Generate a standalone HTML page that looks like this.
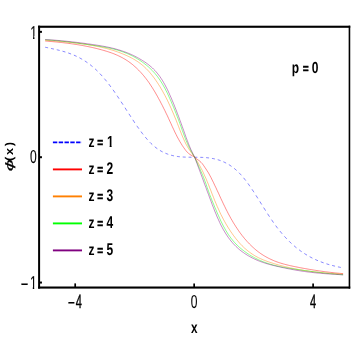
<!DOCTYPE html>
<html><head><meta charset="utf-8"><title>plot</title>
<style>html,body{margin:0;padding:0;background:#fff;}svg{display:block;}text{font-family:"Liberation Sans",sans-serif;fill:#000;text-rendering:geometricPrecision;}</style></head>
<body>
<svg width="353" height="360" viewBox="0 0 353 360">
<rect x="0" y="0" width="353" height="360" fill="#fff"/>
<path transform="scale(1,1.4)" d="M45.2,33.73 L46.4,33.92 L47.7,34.10 L48.9,34.29 L50.2,34.48 L51.4,34.67 L52.7,34.86 L53.9,35.06 L55.2,35.26 L56.4,35.46 L57.7,35.67 L58.9,35.89 L60.2,36.12 L61.4,36.35 L62.7,36.60 L63.9,36.85 L65.1,37.12 L66.4,37.40 L67.6,37.69 L68.9,38.00 L70.1,38.32 L71.4,38.65 L72.6,39.01 L73.9,39.38 L75.1,39.77 L76.4,40.18 L77.6,40.61 L78.9,41.06 L80.1,41.53 L81.3,42.02 L82.6,42.54 L83.8,43.09 L85.1,43.65 L86.3,44.25 L87.6,44.87 L88.8,45.52 L90.1,46.19 L91.3,46.90 L92.6,47.63 L93.8,48.39 L95.1,49.19 L96.3,50.01 L97.6,50.87 L98.8,51.76 L100.0,52.69 L101.3,53.65 L102.5,54.64 L103.8,55.67 L105.0,56.72 L106.3,57.81 L107.5,58.93 L108.8,60.08 L110.0,61.26 L111.3,62.46 L112.5,63.68 L113.8,64.93 L115.0,66.20 L116.2,67.49 L117.5,68.80 L118.7,70.12 L120.0,71.47 L121.2,72.82 L122.5,74.19 L123.7,75.56 L125.0,76.94 L126.2,78.33 L127.5,79.71 L128.7,81.09 L130.0,82.47 L131.2,83.83 L132.5,85.19 L133.7,86.54 L134.9,87.86 L136.2,89.17 L137.4,90.46 L138.7,91.73 L139.9,92.97 L141.2,94.18 L142.4,95.37 L143.7,96.51 L144.9,97.62 L146.2,98.69 L147.4,99.72 L148.7,100.71 L149.9,101.65 L151.1,102.54 L152.4,103.37 L153.6,104.16 L154.9,104.90 L156.1,105.60 L157.4,106.25 L158.6,106.85 L159.9,107.42 L161.1,107.94 L162.4,108.43 L163.6,108.87 L164.9,109.28 L166.1,109.66 L167.4,110.00 L168.6,110.32 L169.8,110.60 L171.1,110.85 L172.3,111.08 L173.6,111.28 L174.8,111.46 L176.1,111.62 L177.3,111.75 L178.6,111.87 L179.8,111.97 L181.1,112.05 L182.3,112.12 L183.6,112.17 L184.8,112.22 L186.0,112.25 L187.3,112.27 L188.5,112.29 L189.8,112.30 L191.0,112.31 L192.3,112.31 L193.5,112.32 L194.8,112.32 L196.0,112.32 L197.3,112.33 L198.5,112.35 L199.8,112.37 L201.0,112.39 L202.3,112.43 L203.5,112.47 L204.7,112.53 L206.0,112.59 L207.2,112.68 L208.5,112.77 L209.7,112.88 L211.0,113.02 L212.2,113.16 L213.5,113.33 L214.7,113.52 L216.0,113.74 L217.2,113.98 L218.5,114.24 L219.7,114.53 L220.9,114.85 L222.2,115.19 L223.4,115.57 L224.7,115.98 L225.9,116.42 L227.2,116.90 L228.4,117.41 L229.7,117.96 L230.9,118.55 L232.2,119.18 L233.4,119.85 L234.7,120.56 L235.9,121.32 L237.2,122.12 L238.4,122.97 L239.6,123.86 L240.9,124.81 L242.1,125.80 L243.4,126.84 L244.6,127.94 L245.9,129.08 L247.1,130.26 L248.4,131.48 L249.6,132.73 L250.9,134.02 L252.1,135.33 L253.4,136.68 L254.6,138.04 L255.8,139.42 L257.1,140.81 L258.3,142.22 L259.6,143.64 L260.8,145.06 L262.1,146.48 L263.3,147.90 L264.6,149.32 L265.8,150.72 L267.1,152.12 L268.3,153.50 L269.6,154.86 L270.8,156.20 L272.1,157.51 L273.3,158.80 L274.5,160.05 L275.8,161.27 L277.0,162.45 L278.3,163.61 L279.5,164.73 L280.8,165.81 L282.0,166.87 L283.3,167.90 L284.5,168.89 L285.8,169.86 L287.0,170.79 L288.3,171.70 L289.5,172.58 L290.7,173.43 L292.0,174.26 L293.2,175.05 L294.5,175.83 L295.7,176.57 L297.0,177.29 L298.2,177.99 L299.5,178.66 L300.7,179.31 L302.0,179.94 L303.2,180.55 L304.5,181.13 L305.7,181.69 L307.0,182.23 L308.2,182.75 L309.4,183.26 L310.7,183.74 L311.9,184.20 L313.2,184.65 L314.4,185.08 L315.7,185.49 L316.9,185.89 L318.2,186.27 L319.4,186.63 L320.7,186.98 L321.9,187.31 L323.2,187.64 L324.4,187.95 L325.6,188.24 L326.9,188.53 L328.1,188.80 L329.4,189.06 L330.6,189.31 L331.9,189.55 L333.1,189.79 L334.4,190.01 L335.6,190.22 L336.9,190.43 L338.1,190.63 L339.4,190.82 L340.6,191.01 L341.9,191.19 L343.1,191.37" fill="none" stroke="#0000ff" stroke-width="0.4" stroke-dasharray="2.95 2.9"/>
<path d="M45.2,41.00 L46.4,41.11 L47.7,41.21 L48.9,41.32 L50.2,41.43 L51.4,41.54 L52.7,41.65 L53.9,41.77 L55.2,41.89 L56.4,42.01 L57.7,42.13 L58.9,42.26 L60.2,42.39 L61.4,42.53 L62.7,42.67 L63.9,42.81 L65.1,42.96 L66.4,43.11 L67.6,43.27 L68.9,43.43 L70.1,43.59 L71.4,43.76 L72.6,43.94 L73.9,44.12 L75.1,44.30 L76.4,44.50 L77.6,44.69 L78.9,44.90 L80.1,45.10 L81.3,45.32 L82.6,45.54 L83.8,45.77 L85.1,46.01 L86.3,46.25 L87.6,46.50 L88.8,46.75 L90.1,47.02 L91.3,47.29 L92.6,47.57 L93.8,47.85 L95.1,48.15 L96.3,48.45 L97.6,48.76 L98.8,49.08 L100.0,49.41 L101.3,49.75 L102.5,50.10 L103.8,50.45 L105.0,50.82 L106.3,51.19 L107.5,51.58 L108.8,51.99 L110.0,52.40 L111.3,52.84 L112.5,53.29 L113.8,53.77 L115.0,54.27 L116.2,54.79 L117.5,55.34 L118.7,55.91 L120.0,56.52 L121.2,57.15 L122.5,57.82 L123.7,58.52 L125.0,59.25 L126.2,60.03 L127.5,60.84 L128.7,61.69 L130.0,62.59 L131.2,63.53 L132.5,64.51 L133.7,65.55 L134.9,66.63 L136.2,67.76 L137.4,68.94 L138.7,70.18 L139.9,71.47 L141.2,72.82 L142.4,74.23 L143.7,75.70 L144.9,77.24 L146.2,78.83 L147.4,80.49 L148.7,82.22 L149.9,84.02 L151.1,85.89 L152.4,87.83 L153.6,89.84 L154.9,91.92 L156.1,94.06 L157.4,96.26 L158.6,98.53 L159.9,100.85 L161.1,103.22 L162.4,105.65 L163.6,108.13 L164.9,110.65 L166.1,113.22 L167.4,115.82 L168.6,118.47 L169.8,121.15 L171.1,123.87 L172.3,126.61 L173.6,129.32 L174.8,131.98 L176.1,134.54 L177.3,136.98 L178.6,139.29 L179.8,141.49 L181.1,143.57 L182.3,145.55 L183.6,147.41 L184.8,149.14 L186.0,150.74 L187.3,152.17 L188.5,153.39 L189.8,154.35 L191.0,155.11 L192.3,155.79 L193.5,156.51 L194.8,157.39 L196.0,158.41 L197.3,159.33 L198.5,160.21 L199.8,161.17 L201.0,162.30 L202.3,163.70 L203.5,165.34 L204.7,167.14 L206.0,169.02 L207.2,170.92 L208.5,172.94 L209.7,175.17 L211.0,177.55 L212.2,180.05 L213.5,182.61 L214.7,185.22 L216.0,187.86 L217.2,190.52 L218.5,193.21 L219.7,195.89 L220.9,198.57 L222.2,201.22 L223.4,203.85 L224.7,206.44 L225.9,208.98 L227.2,211.46 L228.4,213.87 L229.7,216.19 L230.9,218.45 L232.2,220.62 L233.4,222.72 L234.7,224.75 L235.9,226.71 L237.2,228.60 L238.4,230.43 L239.6,232.18 L240.9,233.88 L242.1,235.52 L243.4,237.09 L244.6,238.61 L245.9,240.07 L247.1,241.47 L248.4,242.82 L249.6,244.12 L250.9,245.37 L252.1,246.56 L253.4,247.71 L254.6,248.81 L255.8,249.86 L257.1,250.87 L258.3,251.83 L259.6,252.75 L260.8,253.63 L262.1,254.47 L263.3,255.27 L264.6,256.04 L265.8,256.76 L267.1,257.46 L268.3,258.12 L269.6,258.74 L270.8,259.34 L272.1,259.91 L273.3,260.45 L274.5,260.96 L275.8,261.45 L277.0,261.91 L278.3,262.35 L279.5,262.77 L280.8,263.16 L282.0,263.54 L283.3,263.90 L284.5,264.24 L285.8,264.57 L287.0,264.89 L288.3,265.19 L289.5,265.48 L290.7,265.76 L292.0,266.03 L293.2,266.30 L294.5,266.56 L295.7,266.81 L297.0,267.06 L298.2,267.31 L299.5,267.55 L300.7,267.79 L302.0,268.02 L303.2,268.25 L304.5,268.48 L305.7,268.71 L307.0,268.93 L308.2,269.14 L309.4,269.35 L310.7,269.56 L311.9,269.77 L313.2,269.97 L314.4,270.17 L315.7,270.36 L316.9,270.55 L318.2,270.74 L319.4,270.92 L320.7,271.10 L321.9,271.27 L323.2,271.44 L324.4,271.61 L325.6,271.77 L326.9,271.93 L328.1,272.09 L329.4,272.24 L330.6,272.39 L331.9,272.53 L333.1,272.67 L334.4,272.81 L335.6,272.94 L336.9,273.07 L338.1,273.19 L339.4,273.31 L340.6,273.42 L341.9,273.54 L343.1,273.64" fill="none" stroke="#ff0000" stroke-width="0.45"/>
<path d="M45.2,40.31 L46.4,40.39 L47.7,40.48 L48.9,40.56 L50.2,40.65 L51.4,40.74 L52.7,40.83 L53.9,40.92 L55.2,41.01 L56.4,41.11 L57.7,41.20 L58.9,41.30 L60.2,41.41 L61.4,41.51 L62.7,41.62 L63.9,41.73 L65.1,41.84 L66.4,41.96 L67.6,42.08 L68.9,42.21 L70.1,42.34 L71.4,42.47 L72.6,42.61 L73.9,42.75 L75.1,42.89 L76.4,43.04 L77.6,43.20 L78.9,43.36 L80.1,43.52 L81.3,43.69 L82.6,43.86 L83.8,44.04 L85.1,44.23 L86.3,44.42 L87.6,44.62 L88.8,44.82 L90.1,45.03 L91.3,45.25 L92.6,45.47 L93.8,45.70 L95.1,45.94 L96.3,46.18 L97.6,46.44 L98.8,46.70 L100.0,46.97 L101.3,47.24 L102.5,47.53 L103.8,47.83 L105.0,48.14 L106.3,48.46 L107.5,48.79 L108.8,49.13 L110.0,49.49 L111.3,49.86 L112.5,50.24 L113.8,50.63 L115.0,51.04 L116.2,51.46 L117.5,51.90 L118.7,52.35 L120.0,52.82 L121.2,53.30 L122.5,53.80 L123.7,54.32 L125.0,54.85 L126.2,55.40 L127.5,55.97 L128.7,56.56 L130.0,57.17 L131.2,57.81 L132.5,58.47 L133.7,59.16 L134.9,59.89 L136.2,60.66 L137.4,61.47 L138.7,62.33 L139.9,63.24 L141.2,64.19 L142.4,65.21 L143.7,66.28 L144.9,67.42 L146.2,68.62 L147.4,69.89 L148.7,71.23 L149.9,72.64 L151.1,74.12 L152.4,75.68 L153.6,77.31 L154.9,79.01 L156.1,80.78 L157.4,82.64 L158.6,84.57 L159.9,86.57 L161.1,88.66 L162.4,90.82 L163.6,93.07 L164.9,95.39 L166.1,97.80 L167.4,100.29 L168.6,102.86 L169.8,105.52 L171.1,108.27 L172.3,111.10 L173.6,114.02 L174.8,117.02 L176.1,120.12 L177.3,123.30 L178.6,126.56 L179.8,129.82 L181.1,133.02 L182.3,136.07 L183.6,138.96 L184.8,141.66 L186.0,144.14 L187.3,146.40 L188.5,148.45 L189.8,150.36 L191.0,152.17 L192.3,153.93 L193.5,155.70 L194.8,157.52 L196.0,159.43 L197.3,161.45 L198.5,163.57 L199.8,165.80 L201.0,168.14 L202.3,170.58 L203.5,173.14 L204.7,175.82 L206.0,178.62 L207.2,181.55 L208.5,184.61 L209.7,187.75 L211.0,190.96 L212.2,194.17 L213.5,197.36 L214.7,200.48 L216.0,203.50 L217.2,206.41 L218.5,209.20 L219.7,211.88 L220.9,214.46 L222.2,216.94 L223.4,219.33 L224.7,221.62 L225.9,223.82 L227.2,225.94 L228.4,227.97 L229.7,229.93 L230.9,231.82 L232.2,233.63 L233.4,235.38 L234.7,237.06 L235.9,238.67 L237.2,240.21 L238.4,241.70 L239.6,243.11 L240.9,244.47 L242.1,245.76 L243.4,246.99 L244.6,248.16 L245.9,249.26 L247.1,250.32 L248.4,251.32 L249.6,252.26 L250.9,253.16 L252.1,254.01 L253.4,254.82 L254.6,255.58 L255.8,256.30 L257.1,256.98 L258.3,257.63 L259.6,258.24 L260.8,258.82 L262.1,259.37 L263.3,259.90 L264.6,260.39 L265.8,260.87 L267.1,261.33 L268.3,261.77 L269.6,262.19 L270.8,262.60 L272.1,263.00 L273.3,263.39 L274.5,263.77 L275.8,264.14 L277.0,264.51 L278.3,264.86 L279.5,265.21 L280.8,265.55 L282.0,265.88 L283.3,266.20 L284.5,266.51 L285.8,266.82 L287.0,267.11 L288.3,267.40 L289.5,267.69 L290.7,267.96 L292.0,268.23 L293.2,268.49 L294.5,268.74 L295.7,268.98 L297.0,269.22 L298.2,269.45 L299.5,269.68 L300.7,269.89 L302.0,270.10 L303.2,270.31 L304.5,270.50 L305.7,270.70 L307.0,270.88 L308.2,271.06 L309.4,271.23 L310.7,271.40 L311.9,271.56 L313.2,271.71 L314.4,271.86 L315.7,272.00 L316.9,272.14 L318.2,272.27 L319.4,272.40 L320.7,272.52 L321.9,272.63 L323.2,272.74 L324.4,272.85 L325.6,272.95 L326.9,273.05 L328.1,273.15 L329.4,273.24 L330.6,273.33 L331.9,273.42 L333.1,273.51 L334.4,273.59 L335.6,273.67 L336.9,273.75 L338.1,273.83 L339.4,273.91 L340.6,273.99 L341.9,274.06 L343.1,274.14" fill="none" stroke="#ff8000" stroke-width="0.45"/>
<path d="M45.2,39.74 L46.4,39.83 L47.7,39.92 L48.9,40.01 L50.2,40.11 L51.4,40.22 L52.7,40.33 L53.9,40.44 L55.2,40.55 L56.4,40.67 L57.7,40.80 L58.9,40.92 L60.2,41.05 L61.4,41.19 L62.7,41.32 L63.9,41.46 L65.1,41.60 L66.4,41.75 L67.6,41.90 L68.9,42.05 L70.1,42.20 L71.4,42.35 L72.6,42.51 L73.9,42.67 L75.1,42.83 L76.4,43.00 L77.6,43.16 L78.9,43.33 L80.1,43.50 L81.3,43.67 L82.6,43.84 L83.8,44.02 L85.1,44.19 L86.3,44.37 L87.6,44.54 L88.8,44.72 L90.1,44.90 L91.3,45.08 L92.6,45.26 L93.8,45.44 L95.1,45.62 L96.3,45.81 L97.6,46.00 L98.8,46.19 L100.0,46.38 L101.3,46.59 L102.5,46.80 L103.8,47.01 L105.0,47.24 L106.3,47.47 L107.5,47.71 L108.8,47.97 L110.0,48.23 L111.3,48.51 L112.5,48.81 L113.8,49.11 L115.0,49.43 L116.2,49.77 L117.5,50.13 L118.7,50.50 L120.0,50.89 L121.2,51.30 L122.5,51.74 L123.7,52.19 L125.0,52.66 L126.2,53.16 L127.5,53.69 L128.7,54.23 L130.0,54.81 L131.2,55.41 L132.5,56.03 L133.7,56.69 L134.9,57.37 L136.2,58.09 L137.4,58.83 L138.7,59.61 L139.9,60.42 L141.2,61.26 L142.4,62.14 L143.7,63.05 L144.9,64.00 L146.2,64.99 L147.4,66.02 L148.7,67.09 L149.9,68.22 L151.1,69.40 L152.4,70.66 L153.6,71.99 L154.9,73.39 L156.1,74.89 L157.4,76.48 L158.6,78.16 L159.9,79.96 L161.1,81.87 L162.4,83.90 L163.6,86.06 L164.9,88.34 L166.1,90.74 L167.4,93.25 L168.6,95.87 L169.8,98.60 L171.1,101.42 L172.3,104.34 L173.6,107.34 L174.8,110.42 L176.1,113.58 L177.3,116.81 L178.6,120.11 L179.8,123.49 L181.1,126.93 L182.3,130.44 L183.6,133.93 L184.8,137.23 L186.0,140.33 L187.3,143.25 L188.5,146.02 L189.8,148.62 L191.0,151.01 L192.3,153.16 L193.5,155.26 L194.8,157.60 L196.0,160.31 L197.3,163.16 L198.5,165.94 L199.8,168.68 L201.0,171.44 L202.3,174.28 L203.5,177.28 L204.7,180.49 L206.0,183.96 L207.2,187.57 L208.5,191.16 L209.7,194.56 L211.0,197.79 L212.2,200.91 L213.5,203.97 L214.7,206.99 L216.0,209.96 L217.2,212.86 L218.5,215.69 L219.7,218.43 L220.9,221.09 L222.2,223.64 L223.4,226.09 L224.7,228.41 L225.9,230.60 L227.2,232.66 L228.4,234.60 L229.7,236.41 L230.9,238.11 L232.2,239.70 L233.4,241.20 L234.7,242.60 L235.9,243.92 L237.2,245.17 L238.4,246.35 L239.6,247.46 L240.9,248.52 L242.1,249.54 L243.4,250.51 L244.6,251.45 L245.9,252.36 L247.1,253.23 L248.4,254.06 L249.6,254.87 L250.9,255.64 L252.1,256.38 L253.4,257.09 L254.6,257.77 L255.8,258.42 L257.1,259.05 L258.3,259.65 L259.6,260.22 L260.8,260.77 L262.1,261.29 L263.3,261.79 L264.6,262.26 L265.8,262.72 L267.1,263.15 L268.3,263.57 L269.6,263.96 L270.8,264.34 L272.1,264.70 L273.3,265.04 L274.5,265.36 L275.8,265.67 L277.0,265.97 L278.3,266.25 L279.5,266.52 L280.8,266.78 L282.0,267.03 L283.3,267.27 L284.5,267.50 L285.8,267.72 L287.0,267.93 L288.3,268.14 L289.5,268.34 L290.7,268.53 L292.0,268.72 L293.2,268.91 L294.5,269.09 L295.7,269.28 L297.0,269.46 L298.2,269.64 L299.5,269.82 L300.7,270.00 L302.0,270.17 L303.2,270.35 L304.5,270.53 L305.7,270.70 L307.0,270.87 L308.2,271.04 L309.4,271.21 L310.7,271.37 L311.9,271.54 L313.2,271.70 L314.4,271.86 L315.7,272.02 L316.9,272.17 L318.2,272.32 L319.4,272.47 L320.7,272.62 L321.9,272.77 L323.2,272.91 L324.4,273.05 L325.6,273.19 L326.9,273.32 L328.1,273.45 L329.4,273.58 L330.6,273.70 L331.9,273.82 L333.1,273.94 L334.4,274.05 L335.6,274.16 L336.9,274.27 L338.1,274.37 L339.4,274.47 L340.6,274.57 L341.9,274.66 L343.1,274.74" fill="none" stroke="#00ff00" stroke-width="0.45"/>
<path d="M45.2,39.49 L46.4,39.56 L47.7,39.65 L48.9,39.73 L50.2,39.82 L51.4,39.91 L52.7,40.00 L53.9,40.10 L55.2,40.20 L56.4,40.30 L57.7,40.41 L58.9,40.51 L60.2,40.63 L61.4,40.74 L62.7,40.86 L63.9,40.98 L65.1,41.10 L66.4,41.23 L67.6,41.36 L68.9,41.49 L70.1,41.62 L71.4,41.76 L72.6,41.90 L73.9,42.04 L75.1,42.19 L76.4,42.34 L77.6,42.49 L78.9,42.64 L80.1,42.80 L81.3,42.96 L82.6,43.12 L83.8,43.29 L85.1,43.45 L86.3,43.62 L87.6,43.80 L88.8,43.97 L90.1,44.15 L91.3,44.33 L92.6,44.51 L93.8,44.70 L95.1,44.88 L96.3,45.07 L97.6,45.27 L98.8,45.47 L100.0,45.68 L101.3,45.89 L102.5,46.11 L103.8,46.34 L105.0,46.57 L106.3,46.81 L107.5,47.07 L108.8,47.33 L110.0,47.60 L111.3,47.89 L112.5,48.18 L113.8,48.49 L115.0,48.81 L116.2,49.15 L117.5,49.50 L118.7,49.86 L120.0,50.25 L121.2,50.64 L122.5,51.06 L123.7,51.49 L125.0,51.94 L126.2,52.40 L127.5,52.89 L128.7,53.40 L130.0,53.93 L131.2,54.48 L132.5,55.05 L133.7,55.64 L134.9,56.26 L136.2,56.90 L137.4,57.57 L138.7,58.26 L139.9,58.98 L141.2,59.72 L142.4,60.49 L143.7,61.29 L144.9,62.11 L146.2,62.97 L147.4,63.86 L148.7,64.80 L149.9,65.80 L151.1,66.85 L152.4,67.98 L153.6,69.18 L154.9,70.46 L156.1,71.84 L157.4,73.32 L158.6,74.90 L159.9,76.60 L161.1,78.43 L162.4,80.38 L163.6,82.48 L164.9,84.71 L166.1,87.07 L167.4,89.56 L168.6,92.16 L169.8,94.88 L171.1,97.71 L172.3,100.63 L173.6,103.66 L174.8,106.77 L176.1,109.96 L177.3,113.21 L178.6,116.53 L179.8,119.91 L181.1,123.32 L182.3,126.77 L183.6,130.25 L184.8,133.74 L186.0,137.19 L187.3,140.57 L188.5,143.82 L189.8,146.91 L191.0,149.78 L192.3,152.40 L193.5,154.91 L194.8,157.67 L196.0,160.86 L197.3,164.22 L198.5,167.58 L199.8,170.94 L201.0,174.29 L202.3,177.64 L203.5,181.00 L204.7,184.36 L206.0,187.72 L207.2,191.09 L208.5,194.47 L209.7,197.84 L211.0,201.19 L212.2,204.50 L213.5,207.75 L214.7,210.92 L216.0,213.99 L217.2,216.96 L218.5,219.79 L219.7,222.48 L220.9,225.03 L222.2,227.44 L223.4,229.72 L224.7,231.87 L225.9,233.89 L227.2,235.81 L228.4,237.61 L229.7,239.30 L230.9,240.90 L232.2,242.40 L233.4,243.81 L234.7,245.14 L235.9,246.39 L237.2,247.57 L238.4,248.68 L239.6,249.73 L240.9,250.72 L242.1,251.67 L243.4,252.57 L244.6,253.43 L245.9,254.25 L247.1,255.04 L248.4,255.79 L249.6,256.51 L250.9,257.20 L252.1,257.86 L253.4,258.48 L254.6,259.08 L255.8,259.65 L257.1,260.19 L258.3,260.71 L259.6,261.21 L260.8,261.68 L262.1,262.13 L263.3,262.56 L264.6,262.97 L265.8,263.37 L267.1,263.74 L268.3,264.11 L269.6,264.45 L270.8,264.79 L272.1,265.11 L273.3,265.43 L274.5,265.73 L275.8,266.03 L277.0,266.32 L278.3,266.60 L279.5,266.88 L280.8,267.16 L282.0,267.43 L283.3,267.70 L284.5,267.96 L285.8,268.22 L287.0,268.47 L288.3,268.72 L289.5,268.96 L290.7,269.20 L292.0,269.44 L293.2,269.67 L294.5,269.89 L295.7,270.11 L297.0,270.33 L298.2,270.53 L299.5,270.74 L300.7,270.93 L302.0,271.13 L303.2,271.31 L304.5,271.49 L305.7,271.67 L307.0,271.83 L308.2,271.99 L309.4,272.15 L310.7,272.30 L311.9,272.44 L313.2,272.58 L314.4,272.72 L315.7,272.84 L316.9,272.97 L318.2,273.09 L319.4,273.20 L320.7,273.31 L321.9,273.42 L323.2,273.52 L324.4,273.62 L325.6,273.72 L326.9,273.81 L328.1,273.90 L329.4,273.99 L330.6,274.07 L331.9,274.15 L333.1,274.23 L334.4,274.31 L335.6,274.39 L336.9,274.47 L338.1,274.54 L339.4,274.61 L340.6,274.69 L341.9,274.76 L343.1,274.83" fill="none" stroke="#800080" stroke-width="0.45"/>
<rect x="38.10" y="25.70" width="312.15" height="2.1" fill="#000"/>
<rect x="38.10" y="286.50" width="312.15" height="2.1" fill="#000"/>
<rect x="38.10" y="25.70" width="2.0" height="262.90" fill="#000"/>
<rect x="348.65" y="25.70" width="1.6" height="262.90" fill="#000"/>
<line x1="75.19" y1="287.55" x2="75.19" y2="283.40" stroke="#000" stroke-width="1.7"/>
<line x1="194.15" y1="287.55" x2="194.15" y2="283.40" stroke="#000" stroke-width="1.7"/>
<line x1="313.11" y1="287.55" x2="313.11" y2="283.40" stroke="#000" stroke-width="1.7"/>
<line x1="39.1" y1="282.55" x2="41.95" y2="282.55" stroke="#000" stroke-width="2.0"/>
<line x1="39.1" y1="157.20" x2="41.95" y2="157.20" stroke="#000" stroke-width="2.0"/>
<line x1="39.1" y1="31.85" x2="41.95" y2="31.85" stroke="#000" stroke-width="2.0"/>
<g opacity="0.999">
<text transform="translate(74.79,307.6) scale(0.57,1)" font-size="19.4" text-anchor="middle" font-weight="normal" stroke="#000" stroke-width="0.12"><tspan font-size="21.7" dy="2.55" stroke-width="0.1">−</tspan><tspan dy="-2.55" dx="1.3" stroke-width="0.45">4</tspan></text>
<text transform="translate(194.15,307.6) scale(0.645,1)" font-size="18.7" text-anchor="middle" font-weight="normal" stroke="#000" stroke-width="0.12">0</text>
<text transform="translate(313.11,307.6) scale(0.57,1)" font-size="19.4" text-anchor="middle" font-weight="normal" stroke="#000" stroke-width="0.45">4</text>
<text transform="translate(36.9,38.6) scale(0.645,1)" font-size="18.7" text-anchor="end" font-weight="normal" stroke="#000" stroke-width="0.12">1</text>
<rect x="30.31" y="36" width="2.73" height="4" fill="#fff"/><rect x="34.47" y="36" width="2.62" height="4" fill="#fff"/>
<text transform="translate(36.8,163.25) scale(0.645,1)" font-size="18.7" text-anchor="end" font-weight="normal" stroke="#000" stroke-width="0.12">0</text>
<text transform="translate(36.65,288.9) scale(0.645,1)" font-size="18.7" text-anchor="end" font-weight="normal" stroke="#000" stroke-width="0.12"><tspan font-size="20.1" dy="1.7" stroke-width="0.1">−</tspan><tspan dy="-1.7" dx="2.6" stroke-width="0.12">1</tspan></text>
<rect x="30.06" y="287" width="2.73" height="4" fill="#fff"/><rect x="34.22" y="287" width="2.62" height="4" fill="#fff"/>
<text transform="translate(194.35,333.2) scale(0.74,1)" font-size="15.9" text-anchor="middle" font-weight="bold">x</text>
<text transform="translate(12.7,171.2) rotate(-90) scale(2.0,1)" font-size="10.9" font-weight="normal" font-style="italic" stroke="#000" stroke-width="0.15">ϕ</text>
<text transform="translate(12.6,160.9) rotate(-90) scale(1.13,1)" font-size="11.3" font-weight="bold" letter-spacing="1.5">(x)</text>
<text transform="translate(291.658984375,72.9) scale(0.75,1)" font-size="16.0" text-anchor="start" font-weight="bold" word-spacing="0.7">p <tspan dy="0" font-size="13.5" stroke="#000" stroke-width="0.5">=</tspan></text>
<text transform="translate(311.625390625,72.8) scale(0.75,1)" font-size="16.0" text-anchor="start" font-weight="bold">0</text>
<line x1="52.9" y1="142.40" x2="82.0" y2="142.40" stroke="#0000ff" stroke-width="1.9" stroke-dasharray="4.4 1.4"/>
<text transform="translate(88.4,147.2) scale(0.75,1)" font-size="16.0" text-anchor="start" font-weight="bold" word-spacing="-0.6">z <tspan dy="0" font-size="13.5" stroke="#000" stroke-width="0.5">=</tspan></text>
<text transform="translate(107.0,147.2) scale(0.755,1)" font-size="15.9" text-anchor="start" font-weight="bold">1</text>
<rect x="106.96" y="145" width="2.67" height="4" fill="#fff"/><rect x="111.63" y="145" width="2.49" height="4" fill="#fff"/>
<line x1="52.9" y1="169.40" x2="82.0" y2="169.40" stroke="#ff0000" stroke-width="1.9"/>
<text transform="translate(88.4,174.2) scale(0.75,1)" font-size="16.0" text-anchor="start" font-weight="bold" word-spacing="-0.6">z <tspan dy="0" font-size="13.5" stroke="#000" stroke-width="0.5">=</tspan></text>
<text transform="translate(106.45,174.2) scale(0.706,1)" font-size="17.0" text-anchor="start" font-weight="bold">2</text>
<line x1="52.9" y1="196.40" x2="82.0" y2="196.40" stroke="#ff8000" stroke-width="1.9"/>
<text transform="translate(88.4,201.2) scale(0.75,1)" font-size="16.0" text-anchor="start" font-weight="bold" word-spacing="-0.6">z <tspan dy="0" font-size="13.5" stroke="#000" stroke-width="0.5">=</tspan></text>
<text transform="translate(106.45,201.2) scale(0.706,1)" font-size="17.0" text-anchor="start" font-weight="bold">3</text>
<line x1="52.9" y1="223.40" x2="82.0" y2="223.40" stroke="#00ff00" stroke-width="1.9"/>
<text transform="translate(88.4,228.2) scale(0.75,1)" font-size="16.0" text-anchor="start" font-weight="bold" word-spacing="-0.6">z <tspan dy="0" font-size="13.5" stroke="#000" stroke-width="0.5">=</tspan></text>
<text transform="translate(106.45,228.2) scale(0.706,1)" font-size="17.0" text-anchor="start" font-weight="bold">4</text>
<line x1="52.9" y1="250.40" x2="82.0" y2="250.40" stroke="#800080" stroke-width="1.9"/>
<text transform="translate(88.4,255.2) scale(0.75,1)" font-size="16.0" text-anchor="start" font-weight="bold" word-spacing="-0.6">z <tspan dy="0" font-size="13.5" stroke="#000" stroke-width="0.5">=</tspan></text>
<text transform="translate(106.45,255.2) scale(0.706,1)" font-size="17.0" text-anchor="start" font-weight="bold">5</text>
</g>
</svg>
</body></html>
